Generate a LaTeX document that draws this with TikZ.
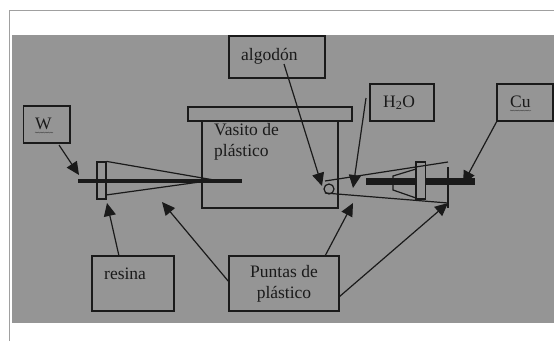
\documentclass[tikz,border=0pt]{standalone}
\usepackage{fontspec}
\setmainfont{Liberation Serif}
\usetikzlibrary{arrows.meta,decorations.pathmorphing}
\definecolor{bggray}{HTML}{959595}
\definecolor{framegray}{HTML}{A0A0A0}
\definecolor{inkk}{HTML}{1A1A1A}
\tikzset{
  boxx/.style={draw=inkk,line width=1.2pt,inner sep=0pt,outer sep=0pt},
  lbl/.style={inner sep=0pt,text=inkk,font=\fontsize{17.5}{21}\selectfont,align=left},
  part/.style={draw=inkk,line width=1.2pt},
  arr/.style={draw=inkk,line width=1.2pt,-{Triangle[length=13pt,width=12pt]}},
  wavy/.style={draw=inkk!70!bggray,line width=.35pt,decorate,decoration={snake,amplitude=.5pt,segment length=2.5pt}}
}
\begin{document}
\begin{tikzpicture}[x=1pt,y=-1pt]
\useasboundingbox (0,0) rectangle (554,341);
\fill[white] (0,0) rectangle (554,341);
\draw[framegray,line width=1.4pt] (9.5,341) -- (9.5,10.5) -- (554,10.5);
\fill[bggray] (12,35) rectangle (554,323);
% cup
\draw[part] (202,121) rectangle (338,208);
\draw[part] (188,107) rectangle (352,121);
% boxes
\node[boxx,minimum width=96pt,minimum height=42pt] (algbox) at (277,57) {};
\node[boxx,minimum width=46.5pt,minimum height=37pt] (wbox) at (46.7,124.5) {};
\node[boxx,minimum width=64pt,minimum height=37pt] (hbox) at (402,102.5) {};
\node[boxx,minimum width=56pt,minimum height=37pt] (cubox) at (525,102.5) {};
\node[boxx,minimum width=82pt,minimum height=55pt] (resbox) at (133,283.5) {};
\node[boxx,minimum width=110pt,minimum height=55pt] (puntbox) at (284,283.5) {};
% labels
\node[lbl,anchor=base west] (alglbl) at (241,60) {algodón};
\node[lbl,anchor=base west] (wlbl) at (35,129) {W};
\node[lbl,anchor=base west] (hlbl) at (383,107) {H\textsubscript{2}O};
\node[lbl,anchor=base west] (culbl) at (510,107) {Cu};
\node[lbl,anchor=base west] (reslbl) at (104,279) {resina};
\node[lbl,anchor=north west] (vaslbl) at (214,123.5) {Vasito de\\plástico};
\node[lbl,anchor=north,align=center] (puntlbl) at (284,265.5) {Puntas de\\plástico};
\draw[wavy] (wlbl.base west) ++(0,3.5) -- ++(18,0);
\draw[wavy] (culbl.base west) ++(0,3.5) -- ++(21,0);
% left electrode
\coordinate (wl) at (78,181); \coordinate (wr) at (242,181);
\node[part,fill=bggray,inner sep=0pt,minimum width=9pt,minimum height=37pt] (resL) at (101.5,180.5) {};
\coordinate (tipL) at (214,180);
\draw[part] (resL.north east) -- (tipL) -- (106,195);
\draw[inkk,line width=4.5pt] (wl) -- (wr);
% right electrode
\coordinate (cl) at (366,181); \coordinate (cr) at (475,181);
\draw[inkk,line width=7pt] (cl) -- (cr);
\node[draw=inkk,fill=bggray,line width=1.2pt,inner sep=0pt,minimum width=9.5pt,minimum height=37pt] (resR) at (420.7,180.5) {};
\coordinate (sa) at (416,169); \coordinate (sb) at (393,176); \coordinate (sc) at (393,190); \coordinate (sd) at (416,198);
\draw[part] (sa) -- (sb) -- (sc) -- (sd);
\coordinate (ta) at (325,181); \coordinate (tb) at (448,162); \coordinate (tc) at (325,193); \coordinate (td) at (448,203);
\draw[part] (ta) -- (tb);
\draw[part] (tc) -- (td);
\coordinate (va) at (448,167); \coordinate (vb) at (448,208);
\draw[part] (va) -- (vb);
\node[draw=inkk,line width=1.2pt,circle,inner sep=0pt,minimum size=10pt] (cotton) at (329,189) {};
% arrows
\coordinate (wtip) at (79,175);
\coordinate (wstart) at (59,145);
\draw[arr] (wstart) -- (wtip);
\coordinate (astart) at (284,64); \coordinate (atip) at (322,186);
\draw[arr] (astart) -- (atip);
\coordinate (hstart) at (366,98); \coordinate (htip) at (353,188);
\draw[arr] (hstart) -- (htip);
\coordinate (ctip) at (463,184);
\draw[arr] (cubox.south west) -- (ctip);
\coordinate (rstart) at (119,256); \coordinate (rtip) at (107,203);
\draw[arr] (rstart) -- (rtip);
\coordinate (p1s) at (229,282); \coordinate (p1t) at (162,202);
\draw[arr] (p1s) -- (p1t);
\coordinate (p2s) at (325,256); \coordinate (p2t) at (353,203);
\draw[arr] (p2s) -- (p2t);
\coordinate (p3s) at (339,297); \coordinate (p3t) at (448,203);
\draw[arr] (p3s) -- (p3t);
\end{tikzpicture}
\end{document}
